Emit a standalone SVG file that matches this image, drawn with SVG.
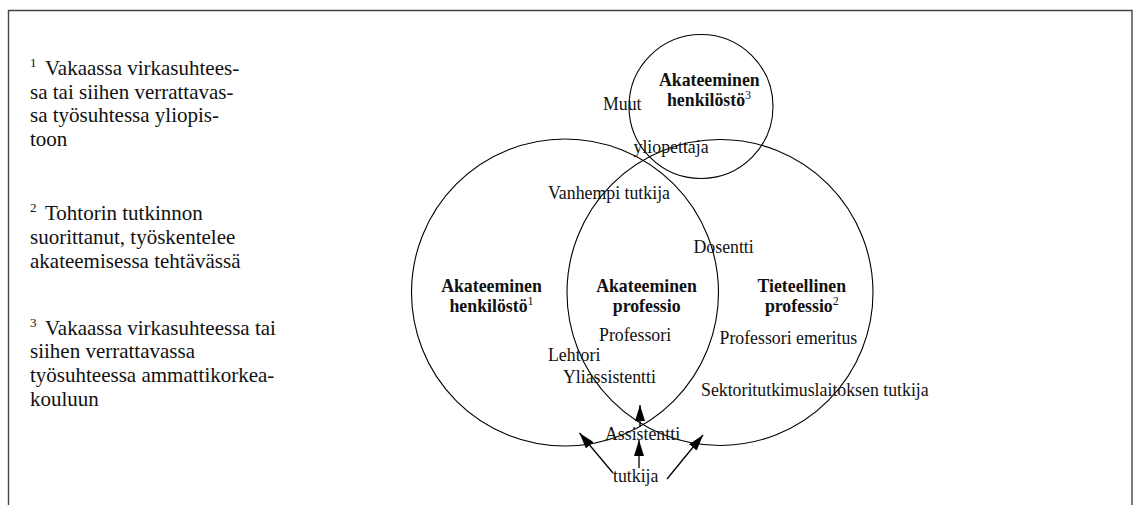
<svg xmlns="http://www.w3.org/2000/svg" width="1136" height="505" viewBox="0 0 1136 505">
  <style>
    text { font-family: "Liberation Serif", "Times New Roman", serif; fill: #111; }
    .t { font-size: 17.8px; }
    .b { font-weight: bold; }
    .m { text-anchor: middle; }
    .fn { font-size: 21px; }
    .sup { font-size: 12px; font-weight: normal; }
    .fsup { font-size: 13px; }
    .c { fill: none; stroke: #000; stroke-width: 1.1; }
    .a { stroke: #000; stroke-width: 1.3; fill: none; marker-end: url(#ah); }
  </style>
  <defs>
    <marker id="ah" markerUnits="userSpaceOnUse" markerWidth="16" markerHeight="10" refX="16" refY="5" orient="auto">
      <path d="M0,0 L16,5 L0,10 z" fill="#000"/>
    </marker>
  </defs>
  <rect x="0" y="0" width="1136" height="505" fill="#fff"/>
  <path d="M8.5,505 V10.5 H1132 V505" fill="none" stroke="#444" stroke-width="1.4"/>

  <g id="footnotes" font-family="Liberation Serif, Times New Roman, serif">
    <text class="fn" x="30" y="75"><tspan class="fsup" dy="-8">1</tspan><tspan x="45" dy="8">Vakaassa virkasuhtees-</tspan></text>
    <text class="fn" x="30" y="98.5">sa tai siihen verrattavas-</text>
    <text class="fn" x="30" y="122">sa työsuhtessa yliopis-</text>
    <text class="fn" x="30" y="145.5">toon</text>

    <text class="fn" x="30" y="220"><tspan class="fsup" dy="-8">2</tspan><tspan x="45" dy="8">Tohtorin tutkinnon</tspan></text>
    <text class="fn" x="30" y="244">suorittanut, työskentelee</text>
    <text class="fn" x="30" y="267.5">akateemisessa tehtävässä</text>

    <text class="fn" x="30" y="334.5"><tspan class="fsup" dy="-8">3</tspan><tspan x="45" dy="8">Vakaassa virkasuhteessa tai</tspan></text>
    <text class="fn" x="30" y="358">siihen verrattavassa</text>
    <text class="fn" x="30" y="382">työsuhteessa ammattikorkea-</text>
    <text class="fn" x="30" y="406">kouluun</text>
  </g>

  <g id="circle-top">
    <circle class="c" cx="701" cy="106.5" r="72"/>
    <text class="t b m" x="709.3" y="85.5">Akateeminen</text>
    <text class="t b m" x="709" y="105.7">henkilöstö<tspan class="sup" dy="-7">3</tspan></text>
  </g>

  <g id="circle-left">
    <circle class="c" cx="565" cy="292.5" r="153.5"/>
    <text class="t b m" x="491.5" y="291.7">Akateeminen</text>
    <text class="t b m" x="491.5" y="311.7">henkilöstö<tspan class="sup" dy="-7">1</tspan></text>
  </g>

  <g id="circle-right">
    <circle class="c" cx="720" cy="292.5" r="153"/>
    <text class="t b m" x="801.8" y="291.7">Tieteellinen</text>
    <text class="t b m" x="801.8" y="312">professio<tspan class="sup" dy="-7">2</tspan></text>
  </g>

  <g id="intersection">
    <text class="t b m" x="646.5" y="291.7">Akateeminen</text>
    <text class="t b m" x="646.7" y="311.7">professio</text>
  </g>

  <g id="labels">
    <text class="t" x="603" y="110">Muut</text>
    <text class="t" x="633.5" y="153">yliopettaja</text>
    <text class="t" x="548" y="199">Vanhempi tutkija</text>
    <text class="t" x="693.5" y="253">Dosentti</text>
    <text class="t" x="599" y="341">Professori</text>
    <text class="t" x="548" y="361">Lehtori</text>
    <text class="t" x="563" y="383">Yliassistentti</text>
    <text class="t" x="719.5" y="344">Professori emeritus</text>
    <text class="t" x="701" y="396">Sektoritutkimuslaitoksen tutkija</text>
    <text class="t" x="605" y="440">Assistentti</text>
    <text class="t" x="613" y="482">tutkija</text>
  </g>

  <g id="connectors">
    <line class="a" x1="640" y1="427" x2="640" y2="405"/>
    <line class="a" x1="639" y1="468" x2="639" y2="440"/>
    <line class="a" x1="613" y1="473" x2="579.5" y2="433"/>
    <line class="a" x1="667" y1="479" x2="703" y2="435"/>
  </g>
</svg>
